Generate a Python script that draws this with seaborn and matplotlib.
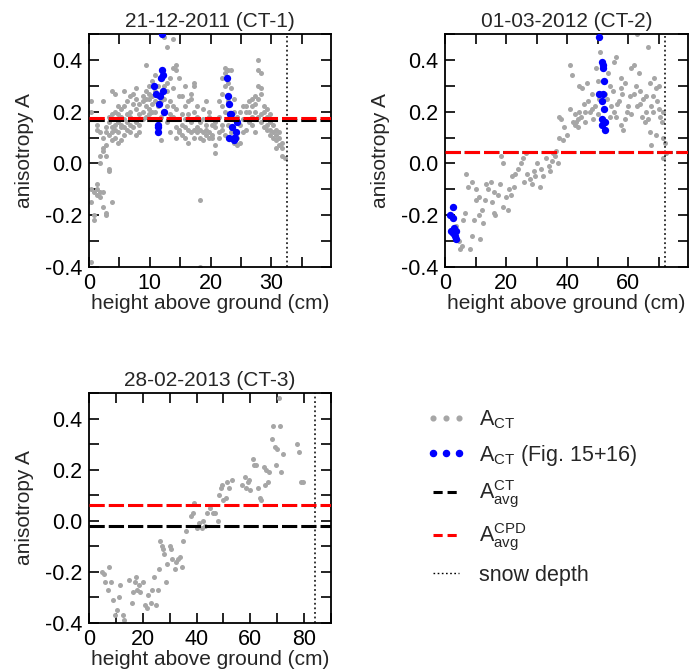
import matplotlib
matplotlib.use("Agg")
import matplotlib.pyplot as plt
from matplotlib.lines import Line2D
from matplotlib.ticker import MultipleLocator, FormatStrFormatter
import seaborn as sns
import pandas as pd

# ---------------- data ----------------
titles = ["21-12-2011 (CT-1)", "01-03-2012 (CT-2)", "28-02-2013 (CT-3)"]
xlims = [(0, 39.8), (0, 79.6), (0, 90)]
snow_depth = [32.6, 72.2, 84.0]
a_avg_ct = [0.166, 0.044, -0.020]
a_avg_cpd = [0.175, 0.046, 0.061]

ct1_grey = [
    (0.3, 0.24), (0.3, 0.20), (0.3, -0.10), (0.3, -0.15), (0.3, -0.38),
    (0.8, 0.17), (0.8, -0.11), (0.8, -0.22), (0.8, -0.20),
    (1.3, -0.08), (1.3, -0.12), (1.3, -0.10), (1.3, 0.13), (1.3, 0.15),
    (1.8, 0.00), (1.8, 0.03), (1.8, -0.13), (1.8, -0.11), (1.8, 0.17), (1.8, 0.12),
    (2.3, 0.05), (2.3, 0.06), (2.3, -0.11), (2.3, -0.17), (2.3, 0.10), (2.3, 0.24),
    (2.8, 0.07), (2.8, 0.03), (2.8, -0.19), (2.8, -0.20), (2.8, 0.12), (2.8, 0.14),
    (3.3, -0.02), (3.3, -0.03), (3.3, 0.11), (3.3, 0.16), (3.3, 0.18),
    (3.8, -0.15), (3.8, 0.09), (3.8, 0.14), (3.8, 0.19), (3.8, 0.28), (3.8, 0.12),
    (4.3, 0.10), (4.3, 0.15), (4.3, 0.20), (4.3, 0.27), (4.3, 0.13),
    (4.8, 0.16), (4.8, 0.22), (4.8, 0.12), (4.8, 0.19), (4.8, 0.08),
    (5.3, 0.14), (5.3, 0.18), (5.3, 0.21), (5.3, 0.09), (5.3, 0.15),
    (5.8, 0.11), (5.8, 0.17), (5.8, 0.22), (5.8, 0.28), (5.8, 0.14),
    (6.3, 0.13), (6.3, 0.19), (6.3, 0.24), (6.3, 0.16),
    (6.8, 0.12), (6.8, 0.20), (6.8, 0.26), (6.8, 0.18), (6.8, 0.15),
    (7.3, 0.17), (7.3, 0.23), (7.3, 0.14), (7.3, 0.27),
    (7.8, 0.11), (7.8, 0.16), (7.8, 0.21), (7.8, 0.25), (7.8, 0.29),
    (8.3, 0.15), (8.3, 0.19), (8.3, 0.23), (8.3, 0.12),
    (8.8, 0.20), (8.8, 0.24), (8.8, 0.26), (8.8, 0.17),
    (9.3, 0.22), (9.3, 0.28), (9.3, 0.38), (9.3, 0.18), (9.3, 0.25),
    (9.8, 0.21), (9.8, 0.25), (9.8, 0.30), (9.8, 0.19), (9.8, 0.27),
    (10.3, 0.20), (10.3, 0.23), (10.3, 0.26), (10.3, 0.32), (10.3, 0.17),
    (10.8, 0.24), (10.8, 0.28), (10.8, 0.20), (10.8, 0.34),
    (11.3, 0.22), (11.3, 0.26), (11.3, 0.30), (11.3, 0.14),
    (11.8, 0.09), (11.8, 0.18), (11.8, 0.24), (11.8, 0.33),
    (12.3, 0.49), (12.3, 0.20), (12.3, 0.25), (12.3, 0.30),
    (12.8, 0.45), (12.8, 0.28), (12.8, 0.22), (12.8, 0.16), (12.8, 0.31),
    (13.3, 0.33), (13.3, 0.19), (13.3, 0.24), (13.3, 0.12),
    (13.8, 0.48), (13.8, 0.37), (13.8, 0.22), (13.8, 0.18), (13.8, 0.29),
    (14.3, 0.38), (14.3, 0.36), (14.3, 0.21), (14.3, 0.14), (14.3, 0.10),
    (14.8, 0.33), (14.8, 0.26), (14.8, 0.17), (14.8, 0.13), (14.8, 0.12),
    (15.3, 0.26), (15.3, 0.15), (15.3, 0.11), (15.3, 0.19),
    (15.8, 0.22), (15.8, 0.14), (15.8, 0.10), (15.8, 0.17), (15.8, 0.30),
    (16.3, 0.13), (16.3, 0.08), (16.3, 0.19), (16.3, 0.24),
    (16.8, 0.25), (16.8, 0.16), (16.8, 0.12), (16.8, 0.27),
    (17.3, 0.30), (17.3, 0.13), (17.3, 0.10), (17.3, 0.20), (17.3, 0.31),
    (17.8, 0.18), (17.8, 0.12), (17.8, 0.14), (17.8, 0.22),
    (18.3, -0.14), (18.3, -0.40), (18.3, 0.10), (18.3, 0.16), (18.3, 0.13),
    (18.8, 0.21), (18.8, 0.12), (18.8, 0.09), (18.8, 0.17),
    (19.3, 0.15), (19.3, 0.11), (19.3, 0.24), (19.3, 0.13),
    (19.8, 0.18), (19.8, 0.12), (19.8, 0.10), (19.8, 0.20),
    (20.3, 0.11), (20.3, 0.15), (20.3, 0.10),
    (20.8, 0.04), (20.8, 0.07), (20.8, 0.16), (20.8, 0.14),
    (21.3, 0.12), (21.3, 0.18), (21.3, 0.24), (21.3, 0.10),
    (21.8, 0.27), (21.8, 0.33), (21.8, 0.22), (21.8, 0.15), (21.8, 0.13),
    (22.3, 0.37), (22.3, 0.35), (22.3, 0.30), (22.3, 0.20), (22.3, 0.11),
    (22.8, 0.36), (22.8, 0.31), (22.8, 0.24), (22.8, 0.15), (22.8, 0.10),
    (23.3, 0.36), (23.3, 0.29), (23.3, 0.17), (23.3, 0.12),
    (23.8, 0.25), (23.8, 0.20), (23.8, 0.13), (23.8, 0.08),
    (24.3, 0.18), (24.3, 0.12), (24.3, 0.07), (24.3, 0.10),
    (24.8, 0.15), (24.8, 0.20), (24.8, 0.08),
    (25.3, 0.22), (25.3, 0.17), (25.3, 0.12),
    (25.8, 0.17), (25.8, 0.20), (25.8, 0.22), (25.8, 0.13),
    (26.3, 0.20), (26.3, 0.24), (26.3, 0.16),
    (26.8, 0.15), (26.8, 0.22), (26.8, 0.25), (26.8, 0.18),
    (27.3, 0.20), (27.3, 0.26), (27.3, 0.12), (27.3, 0.23),
    (27.8, 0.40), (27.8, 0.36), (27.8, 0.30), (27.8, 0.25), (27.8, 0.18),
    (28.3, 0.35), (28.3, 0.29), (28.3, 0.27), (28.3, 0.19), (28.3, 0.16),
    (28.8, 0.22), (28.8, 0.17), (28.8, 0.14), (28.8, 0.20),
    (29.3, 0.18), (29.3, 0.15), (29.3, 0.13), (29.3, 0.21),
    (29.8, 0.16), (29.8, 0.13), (29.8, 0.11), (29.8, 0.19),
    (30.3, 0.15), (30.3, 0.12), (30.3, 0.10), (30.3, 0.17),
    (30.8, 0.13), (30.8, 0.09), (30.8, 0.11), (30.8, 0.06),
    (31.3, 0.12), (31.3, 0.07), (31.3, 0.10),
    (31.8, 0.06), (31.8, 0.03), (31.8, 0.08),
    (32.2, 0.02),
]
ct1_blue = [
    (10.7, 0.30), (11.0, 0.27), (11.3, 0.12), (11.3, 0.15), (11.4, 0.14),
    (11.5, 0.23), (11.6, 0.26), (11.8, 0.33), (12.0, 0.36), (12.1, 0.28),
    (12.2, 0.34), (12.4, 0.20), (12.0, 0.50),
    (22.7, 0.33), (22.8, 0.26), (23.1, 0.23), (23.2, 0.19), (23.4, 0.19),
    (23.6, 0.14), (23.0, 0.10), (23.8, 0.10), (23.9, 0.09), (24.0, 0.10),
    (24.2, 0.12), (24.3, 0.16),
]

ct2_grey = [
    (2.0, -0.20), (3.5, -0.24), (4.5, -0.30), (5.0, -0.33), (5.5, -0.32),
    (6.0, -0.22), (6.5, -0.19), (7.0, -0.04), (7.5, -0.09), (8.3, -0.33),
    (9.0, -0.28), (9.0, -0.07), (9.5, -0.22), (10.0, -0.14), (10.3, -0.10),
    (11.0, -0.13), (11.0, -0.20), (11.5, -0.29), (12.3, -0.23), (12.0, -0.18),
    (13.0, -0.14), (13.5, -0.08), (14.0, -0.10), (15.0, -0.07), (15.5, -0.15),
    (16.0, -0.19), (16.3, -0.20), (16.0, -0.11), (17.5, -0.12), (18.0, -0.08),
    (18.5, 0.03), (19.0, 0.00), (19.0, -0.17), (20.0, -0.13), (20.5, -0.18),
    (21.0, -0.10), (21.5, -0.12), (22.0, -0.05), (22.5, -0.09), (23.0, -0.04),
    (24.0, -0.02), (25.0, 0.00), (25.5, 0.02), (26.0, -0.07), (26.5, 0.04),
    (27.0, -0.04), (28.0, -0.06), (28.5, -0.08), (29.0, -0.03), (29.5, -0.05),
    (30.0, 0.00), (31.0, -0.09), (31.5, -0.02), (32.0, -0.05), (33.0, 0.02),
    (34.0, -0.01), (34.5, -0.03), (35.0, 0.01), (35.5, 0.04), (36.0, 0.03),
    (36.5, 0.05), (37.0, 0.00), (37.5, 0.18), (38.0, 0.17), (37.5, 0.10),
    (38.5, 0.09), (39.0, 0.14), (40.0, 0.11), (41.0, 0.38), (41.5, 0.34),
    (41.0, 0.21), (42.0, 0.16), (42.5, 0.15), (43.0, 0.16), (43.5, 0.14),
    (43.5, 0.17), (44.0, 0.30), (44.5, 0.18), (45.0, 0.29), (45.5, 0.23),
    (46.0, 0.20), (46.5, 0.31), (47.0, 0.24), (47.5, 0.20), (48.0, 0.27),
    (48.5, 0.17), (49.0, 0.22), (49.5, 0.37), (50.0, 0.19), (50.0, 0.32),
    (50.5, 0.25), (50.8, 0.43), (53.0, 0.25), (53.5, 0.35), (54.0, 0.30),
    (54.5, 0.22), (55.0, 0.28), (55.5, 0.39), (55.5, 0.20), (56.0, 0.41),
    (56.0, 0.18), (57.0, 0.24), (57.5, 0.15), (57.5, 0.33), (58.0, 0.27),
    (58.3, 0.13), (59.0, 0.31), (59.5, 0.20), (60.0, 0.22), (60.5, 0.26),
    (61.0, 0.37), (61.0, 0.19), (62.0, 0.38), (62.5, 0.30), (63.0, 0.50),
    (63.0, 0.22), (63.5, 0.35), (64.0, 0.28), (64.5, 0.18), (65.0, 0.25),
    (65.5, 0.16), (66.0, 0.26), (66.5, 0.45), (66.5, 0.17), (67.0, 0.31),
    (67.0, 0.12), (67.5, 0.22), (67.5, 0.07), (68.0, 0.20), (68.5, 0.33),
    (69.0, 0.29), (69.0, 0.11), (69.5, 0.24), (70.0, 0.21), (70.5, 0.18),
    (71.0, 0.16), (71.5, 0.20), (71.5, 0.10), (72.0, 0.08), (72.5, 0.04),
    (71.5, 0.02), (52.5, 0.27), (54.0, 0.18), (56.5, 0.23), (59.0, 0.17),
    (62.0, 0.27), (64.0, 0.23), (66.0, 0.20), (68.0, 0.26), (70.0, 0.30),
    (44.0, 0.20), (46.0, 0.16), (48.0, 0.21), (42.5, 0.19), (57.5, 0.29),
]
ct2_blue = [
    (1.5, -0.20), (2.5, -0.17), (2.5, -0.21), (2.0, -0.26), (2.5, -0.27),
    (3.5, -0.26), (3.6, -0.29), (3.2, -0.28), (2.8, -0.25),
    (50.5, 0.49), (51.5, 0.39), (51.8, 0.38), (51.8, 0.37), (52.0, 0.32),
    (50.5, 0.27), (51.8, 0.27), (51.5, 0.24), (52.0, 0.21), (51.5, 0.17),
    (52.0, 0.16), (52.5, 0.16), (51.5, 0.15), (52.5, 0.13),
]

ct3_grey = [
    (5.0, -0.20), (5.5, -0.21), (6.0, -0.24), (7.0, -0.27), (7.5, -0.18),
    (8.0, -0.24), (9.0, -0.31), (9.5, -0.37), (10.5, -0.35), (11.0, -0.30),
    (11.5, -0.25), (12.5, -0.37), (13.0, -0.39), (15.0, -0.23), (16.0, -0.32),
    (16.5, -0.28), (17.0, -0.24), (17.5, -0.22), (18.0, -0.27), (18.5, -0.25),
    (19.0, -0.28), (20.0, -0.24), (21.0, -0.33), (21.5, -0.34), (22.0, -0.29),
    (23.0, -0.32), (23.5, -0.27), (24.0, -0.22), (25.0, -0.33), (25.5, -0.27),
    (26.0, -0.19), (26.5, -0.08), (27.0, -0.10), (27.5, -0.11), (28.0, -0.13),
    (28.5, -0.24), (29.0, -0.17), (30.0, -0.10), (30.5, -0.11), (31.0, -0.15),
    (32.0, -0.19), (32.5, -0.16), (33.0, -0.15), (34.0, -0.14), (34.5, -0.18),
    (35.0, -0.08), (36.0, -0.04), (38.0, 0.02), (38.5, 0.03), (39.0, 0.07),
    (40.0, -0.03), (41.0, -0.01), (42.0, -0.03), (42.5, 0.00), (43.0, -0.02),
    (44.0, 0.03), (45.0, 0.05), (46.0, 0.03), (47.0, 0.03), (48.0, 0.00),
    (48.5, 0.10), (49.0, 0.13), (49.5, 0.14), (50.0, 0.08), (51.0, 0.09),
    (51.5, 0.15), (52.0, 0.13), (53.0, 0.16), (57.0, 0.14), (58.0, 0.17),
    (58.5, 0.13), (59.0, 0.15), (59.5, 0.16), (60.0, 0.12), (61.0, 0.24),
    (61.5, 0.22), (62.0, 0.22), (63.0, 0.13), (63.5, 0.09), (64.0, 0.08),
    (65.0, 0.21), (65.5, 0.14), (66.0, 0.20), (66.5, 0.15), (67.0, 0.19),
    (68.0, 0.32), (68.5, 0.37), (69.0, 0.29), (69.5, 0.22), (70.0, 0.28),
    (70.5, 0.48), (71.0, 0.37), (71.5, 0.19), (72.0, 0.26), (77.5, 0.30),
    (78.0, 0.27), (79.0, 0.15), (79.5, 0.15),
]
ct3_blue = []

grey_sets = [ct1_grey, ct2_grey, ct3_grey]
blue_sets = [ct1_blue, ct2_blue, ct3_blue]
xtick_major = [10, 20, 20]
xtick_minor = [5, 10, 10]

# ---------------- style ----------------
sns.set_theme(style="ticks")
plt.rcParams["font.family"] = ["Liberation Sans", "DejaVu Sans"]
plt.rcParams["mathtext.fontset"] = "custom"
plt.rcParams["mathtext.rm"] = "Liberation Sans"
plt.rcParams["mathtext.it"] = "Liberation Sans"
plt.rcParams["mathtext.bf"] = "Liberation Sans:bold"

GREY = "#a6a6a6"
BLUE = "#0000ff"
RED = "#ff0000"
FS = 15.0
TFS = 15.5

fig = plt.figure(figsize=(6.92, 6.71), dpi=100)
positions = [
    [89 / 692, 1 - 267 / 671, 242 / 692, 233 / 671],
    [445 / 692, 1 - 267 / 671, 243 / 692, 233 / 671],
    [89 / 692, 1 - 623 / 671, 242 / 692, 230 / 671],
]

for i in range(3):
    ax = fig.add_axes(positions[i])
    g = pd.DataFrame(grey_sets[i], columns=["h", "A"])
    sns.scatterplot(data=g, x="h", y="A", ax=ax, color=GREY, s=13,
                    linewidth=0, zorder=2)
    if blue_sets[i]:
        b = pd.DataFrame(blue_sets[i], columns=["h", "A"])
        sns.scatterplot(data=b, x="h", y="A", ax=ax, color=BLUE, s=28,
                        linewidth=0, zorder=3)
    ax.axhline(a_avg_ct[i], color="black", lw=2.2, dashes=(5, 1.3), zorder=4)
    ax.axhline(a_avg_cpd[i], color=RED, lw=2.2, dashes=(5, 1.3), zorder=5)
    ax.axvline(snow_depth[i], color="black", lw=1.1, ls=(0, (1.2, 1.8)), zorder=4)

    ax.set_xlim(*xlims[i])
    ax.set_ylim(-0.4, 0.5)
    ax.xaxis.set_major_locator(MultipleLocator(xtick_major[i]))
    ax.xaxis.set_minor_locator(MultipleLocator(xtick_minor[i]))
    ax.yaxis.set_major_locator(MultipleLocator(0.2))
    ax.yaxis.set_minor_locator(MultipleLocator(0.1))
    ax.yaxis.set_major_formatter(FormatStrFormatter("%.1f"))
    ax.tick_params(which="both", direction="in", top=True, right=True,
                   width=1.2, labelsize=TFS, colors="black")
    ax.tick_params(axis="y", pad=5)
    ax.tick_params(axis="x", pad=4)
    ax.tick_params(which="major", length=7)
    ax.tick_params(which="minor", length=7)
    for sp in ax.spines.values():
        sp.set_visible(True)
        sp.set_linewidth(1.3)
        sp.set_color("black")
    ax.set_xlabel("height above ground (cm)", fontsize=FS, labelpad=0)
    ax.set_ylabel("anisotropy A", fontsize=FS, labelpad=8)
    ax.set_title(titles[i], fontsize=FS, pad=5)

handles = [
    Line2D([], [], ls="none", marker="o", color=GREY, markersize=3.4),
    Line2D([], [], ls="none", marker="o", color=BLUE, markersize=4.4),
    Line2D([], [], color="black", lw=2.2, dashes=(3, 1.6)),
    Line2D([], [], color=RED, lw=2.2, dashes=(3, 1.6)),
    Line2D([], [], color="black", lw=1.0, ls=(0, (1.2, 1.8))),
]
labels = [
    r"$\mathregular{A_{CT}}$",
    r"$\mathregular{A_{CT}}$ (Fig. 15+16)",
    r"$\mathregular{A_{avg}^{CT}}$",
    r"$\mathregular{A_{avg}^{CPD}}$",
    "snow depth",
]
fig.legend(handles, labels, loc="upper left", bbox_to_anchor=(418 / 692, 1 - 400 / 671),
           frameon=False, fontsize=15.5, numpoints=3, handlelength=1.8,
           handletextpad=0.65, labelspacing=0.53, borderaxespad=0)

fig.savefig("out.png", dpi=100)
